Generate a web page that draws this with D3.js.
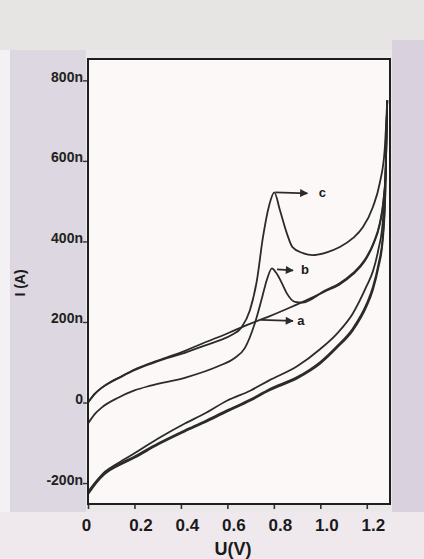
<!DOCTYPE html>
<html>
<head>
<meta charset="utf-8">
<script src="https://cdn.jsdelivr.net/npm/d3@7"></script>
<style>
  html, body { margin: 0; padding: 0; background: #ebe7ea; }
  svg { display: block; }
</style>
</head>
<body>
<svg id="chart" width="424" height="559"></svg>
<script>
// Cyclic voltammograms a, b, c: forward scan 0 -> 1.288 V, reverse scan back to 0 V.
// Potentials in V, currents in nA.

const fwdUA = [0, 0.03, 0.06, 0.10, 0.14, 0.20, 0.27, 0.34, 0.42, 0.49, 0.56, 0.63, 0.70, 0.78, 0.87, 0.955, 1.02, 1.08, 1.14, 1.19, 1.23, 1.255, 1.272, 1.282, 1.288];
const fwdIA = [0, 22, 37, 52, 64, 82, 98, 112, 129, 146, 162, 179, 196, 214, 236, 258, 276, 292, 318, 350, 395, 440, 500, 580, 750];

const fwdUB = [0, 0.03, 0.06, 0.13, 0.20, 0.27, 0.42, 0.56, 0.63, 0.675, 0.72, 0.75, 0.77, 0.792, 0.81, 0.835, 0.856, 0.89, 0.925, 0.96, 1.02, 1.08, 1.14, 1.19, 1.23, 1.255, 1.272, 1.282, 1.288];
const fwdIB = [-52, -28, -12, 12, 30, 42, 62, 90, 110, 135, 200, 262, 305, 333, 322, 296, 271, 250, 248, 256, 278, 295, 321, 353, 398, 443, 503, 583, 750];

const fwdUC = [0, 0.03, 0.06, 0.10, 0.14, 0.20, 0.27, 0.34, 0.42, 0.49, 0.56, 0.62, 0.66, 0.697, 0.727, 0.753, 0.78, 0.802, 0.826, 0.856, 0.88, 0.925, 0.968, 1.028, 1.084, 1.14, 1.183, 1.226, 1.256, 1.277, 1.288];
const fwdIC = [0, 22, 37, 51, 63, 80, 96, 110, 124, 139, 153, 168, 186, 229, 303, 410, 490, 522, 478, 420, 386, 371, 366, 373, 386, 408, 435, 485, 545, 627, 750];

const revU  = [1.288, 1.28, 1.269, 1.25, 1.226, 1.2, 1.14, 1.07, 1.0, 0.9, 0.78, 0.7, 0.6, 0.5, 0.417, 0.3, 0.2, 0.13, 0.073, 0.035, 0];
const revIA = [750, 520, 403, 335, 279, 240, 179, 135, 97, 60, 30, 5, -22, -50, -72, -105, -137, -157, -177, -200, -228];
const revIB = [750, 530, 412, 343, 286, 246, 184, 139, 101, 63, 33, 8, -19, -47, -69, -102, -134, -154, -174, -197, -225];
const revIC = [750, 560, 450, 380, 325, 290, 221, 170, 133, 90, 55, 30, 5, -28, -52, -90, -126, -150, -172, -196, -222];

const xTicks = [0, 0.2, 0.4, 0.6, 0.8, 1.0, 1.2];
const xTickLabels = ["0", "0.2", "0.4", "0.6", "0.8", "1.0", "1.2"];
const yTicks = [-200, 0, 200, 400, 600, 800];
const yTickLabels = ["-200n", "0", "200n", "400n", "600n", "800n"];

const seriesNames = ["a", "b", "c"];
// potential where each label arrow leaves its curve (null = at the peak)
const arrowAt = [0.74, null, null];

const zip = (u, i) => u.map((v, k) => ({u: v, i: i[k]}));
const series = [
  {name: "a", fwd: zip(fwdUA, fwdIA), rev: zip(revU, revIA)},
  {name: "b", fwd: zip(fwdUB, fwdIB), rev: zip(revU, revIB)},
  {name: "c", fwd: zip(fwdUC, fwdIC), rev: zip(revU, revIC)}
];

const svg = d3.select("#chart");
const W = 424, H = 559;
const plot = {left: 88, right: 390, top: 59, bottom: 504};

// scanned page backdrop
const bg = svg.append("g");
bg.append("rect").attr("x", 0).attr("y", 0).attr("width", W).attr("height", H).attr("fill", "#ebe8ea");
bg.append("rect").attr("x", 0).attr("y", 0).attr("width", W).attr("height", 50).attr("fill", "#e7e5e3");
bg.append("rect").attr("x", 10).attr("y", 50).attr("width", 76).attr("height", 462).attr("fill", "#dcd7e0");
bg.append("rect").attr("x", 392).attr("y", 40).attr("width", 32).attr("height", 480).attr("fill", "#d9d1de");
bg.append("rect").attr("x", 0).attr("y", 512).attr("width", W).attr("height", 47).attr("fill", "#efe9ee");
bg.append("rect").attr("x", 0).attr("y", 50).attr("width", 10).attr("height", 462).attr("fill", "#f3f1f3");

const x = d3.scaleLinear().domain([0, 1.3]).range([plot.left, plot.right]);
const y = d3.scaleLinear().domain([-252, 853]).range([plot.bottom, plot.top]);

// plot area
svg.append("rect")
  .attr("x", plot.left).attr("y", plot.top)
  .attr("width", plot.right - plot.left).attr("height", plot.bottom - plot.top)
  .attr("fill", "#fcf8f8");

svg.append("clipPath").attr("id", "plotclip").append("rect")
  .attr("x", plot.left).attr("y", plot.top)
  .attr("width", plot.right - plot.left).attr("height", plot.bottom - plot.top);

const line = d3.line().x(d => x(d.u)).y(d => y(d.i)).curve(d3.curveMonotoneX);

const curves = svg.append("g").attr("clip-path", "url(#plotclip)");
series.forEach(s => {
  curves.append("path").datum(s.fwd).attr("d", line)
    .attr("fill", "none").attr("stroke", "#2b2b2b").attr("stroke-width", 1.8);
  curves.append("path").datum(s.rev).attr("d", line)
    .attr("fill", "none").attr("stroke", "#2b2b2b").attr("stroke-width", 1.8);
});

// axes
const fontFam = "'Liberation Sans', Arial, sans-serif";
const xAxis = d3.axisBottom(x).tickValues(xTicks)
  .tickFormat((d, k) => xTickLabels[k]).tickSize(5).tickPadding(9);
const gx = svg.append("g").attr("transform", `translate(0,${plot.bottom})`).call(xAxis);
gx.select(".domain").remove();
gx.selectAll(".tick line").attr("stroke", "#333").attr("stroke-width", 1.6);
gx.selectAll(".tick text")
  .attr("font-family", fontFam).attr("font-size", 17).attr("font-weight", "bold")
  .attr("fill", "#1a1a1a").attr("dx", (d, k) => (k === 0 ? -2 : 6)).attr("dy", "0.75em");

const yAxis = d3.axisLeft(y).tickValues(yTicks)
  .tickFormat((d, k) => yTickLabels[k]).tickSize(5).tickPadding(0);
const gy = svg.append("g").attr("transform", `translate(${plot.left},0)`).call(yAxis);
gy.select(".domain").remove();
gy.selectAll(".tick line").attr("stroke", "#333").attr("stroke-width", 1.4);
gy.selectAll(".tick text")
  .attr("font-family", fontFam).attr("font-size", 14).attr("font-weight", "bold")
  .attr("fill", "#222").attr("dy", "0").attr("x", -5).attr("y", 1);

// frame
svg.append("rect")
  .attr("x", plot.left).attr("y", plot.top)
  .attr("width", plot.right - plot.left).attr("height", plot.bottom - plot.top)
  .attr("fill", "none").attr("stroke", "#1f1f1f").attr("stroke-width", 2);

// axis titles
svg.append("text")
  .attr("transform", `translate(25,283) rotate(-90)`)
  .attr("text-anchor", "middle")
  .attr("font-family", fontFam).attr("font-size", 14).attr("font-weight", "bold")
  .attr("fill", "#1a1a1a").text("I (A)");
svg.append("text")
  .attr("x", 233).attr("y", 555)
  .attr("text-anchor", "middle")
  .attr("font-family", fontFam).attr("font-size", 18).attr("font-weight", "bold")
  .attr("fill", "#1a1a1a").text("U(V)");

// arrows pointing at each voltammogram
const defs = svg.append("defs");
defs.append("marker").attr("id", "head")
  .attr("viewBox", "0 0 10 10").attr("refX", 9).attr("refY", 5)
  .attr("markerWidth", 10).attr("markerHeight", 8).attr("markerUnits", "userSpaceOnUse")
  .attr("orient", "auto")
  .append("path").attr("d", "M0,0 L10,5 L0,10 Z").attr("fill", "#2b2b2b");

const arrowLen = {a: 32, b: 16, c: 32};
const labelGap = {a: 8, b: 12, c: 15};
seriesNames.forEach((name, k) => {
  const s = series[k];
  let p;
  if (arrowAt[k] === null) {
    p = s.fwd.reduce((m, d) => (d.u < 1.0 && d.i > m.i ? d : m), s.fwd[0]);
  } else {
    const u = arrowAt[k];
    const j = s.fwd.findIndex(d => d.u >= u);
    const a0 = s.fwd[j - 1], a1 = s.fwd[j];
    p = {u: u, i: a0.i + (a1.i - a0.i) * (u - a0.u) / (a1.u - a0.u)};
  }
  const x0 = x(p.u) + (name === "b" ? 5 : 1), y0 = y(p.i) + (name === "b" ? 1 : 0);
  const x1 = x0 + arrowLen[name];
  svg.append("line")
    .attr("x1", x0).attr("y1", y0).attr("x2", x1).attr("y2", y0 + 1)
    .attr("stroke", "#2b2b2b").attr("stroke-width", 1.8)
    .attr("marker-end", "url(#head)");
  svg.append("text")
    .attr("x", x1 + labelGap[name]).attr("y", y0 + 5)
    .attr("text-anchor", "middle")
    .attr("font-family", fontFam).attr("font-size", 13).attr("font-weight", "bold")
    .attr("fill", "#1a1a1a").text(name);
});
</script>
</body>
</html>
